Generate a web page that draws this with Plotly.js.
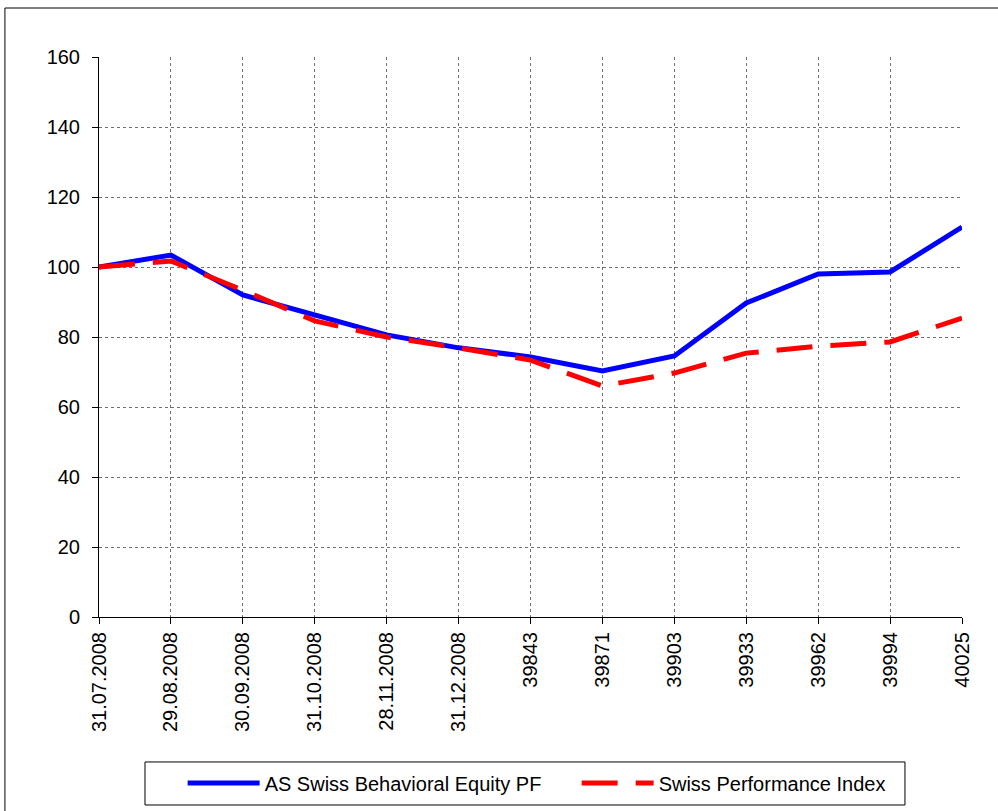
<!DOCTYPE html>
<html>
<head>
<meta charset="utf-8">
<script src="https://cdn.plot.ly/plotly-3.0.1.min.js"></script>
<style>html,body{margin:0;padding:0;background:#fff;}#chart{width:998px;height:811px;}</style>
</head>
<body>
<div id="chart"></div>
<script>
const categories = ["31.07.2008","29.08.2008","30.09.2008","31.10.2008","28.11.2008","31.12.2008","39843","39871","39903","39933","39962","39994","40025"];
const behavioralPF = [100, 103.4, 92, 86.3, 80.6, 76.9, 74.3, 70.3, 74.6, 89.7, 98, 98.6, 111.4];
const swissIndex = [100, 101.7, 93.4, 84.6, 80, 76.9, 73.4, 66, 69.7, 75.4, 77.4, 78.6, 85.4];
const yTicks = [0, 20, 40, 60, 80, 100, 120, 140, 160];

const traces = [
  {x: categories, y: behavioralPF, type: 'scatter', mode: 'lines', name: 'AS Swiss Behavioral Equity PF',
   line: {color: '#0000ff', width: 5}},
  {x: categories, y: swissIndex, type: 'scatter', mode: 'lines', name: 'Swiss Performance Index',
   line: {color: '#ff0000', width: 5, dash: '36px,18px'}}
];

const layout = {
  width: 998, height: 811,
  margin: {l: 99, r: 36, t: 57, b: 194, autoexpand: false},
  paper_bgcolor: '#ffffff', plot_bgcolor: '#ffffff',
  font: {family: 'Liberation Sans, Arial, sans-serif', size: 20, color: '#000'},
  showlegend: true,
  xaxis: {
    type: 'category', range: [0, categories.length - 1], automargin: false,
    tickangle: -90, showgrid: true, gridcolor: '#707070', griddash: 'dot', gridwidth: 1,
    ticks: 'outside', ticklen: 6, tickcolor: '#000',
    showline: true, linecolor: '#000', linewidth: 1,
    tickfont: {size: 20}, zeroline: false
  },
  yaxis: {
    range: [0, 160], tickvals: yTicks, ticktext: yTicks.map(String), automargin: false,
    showgrid: true, gridcolor: '#707070', griddash: 'dot', gridwidth: 1,
    ticks: 'outside', ticklen: 6, tickcolor: '#000', ticklabelstandoff: 8,
    showline: true, linecolor: '#000', linewidth: 1,
    zeroline: false, tickfont: {size: 20}
  },
  legend: {
    orientation: 'h', xref: 'container', yref: 'container', x: 0.183, xanchor: 'left', y: 0.0345, yanchor: 'middle',
    borderwidth: 0, bgcolor: 'rgba(0,0,0,0)',
    font: {size: 20}, itemwidth: 72, entrywidth: 307, tracegroupgap: 0
  },
  shapes: [
    {type: 'rect', xref: 'paper', yref: 'paper', x0: -0.109, x1: 1.05, y0: -0.36, y1: 1.0875,
     line: {color: '#000', width: 1}, fillcolor: 'rgba(0,0,0,0)', layer: 'below'},
    {type: 'rect', xref: 'paper', yref: 'paper', x0: 0.0533, x1: 0.9339, y0: -0.3357, y1: -0.2589,
     line: {color: '#000', width: 1}, fillcolor: 'rgba(0,0,0,0)', layer: 'below'}
  ]
};

Plotly.newPlot('chart', traces, layout, {displayModeBar: false, staticPlot: true});
</script>
</body>
</html>
